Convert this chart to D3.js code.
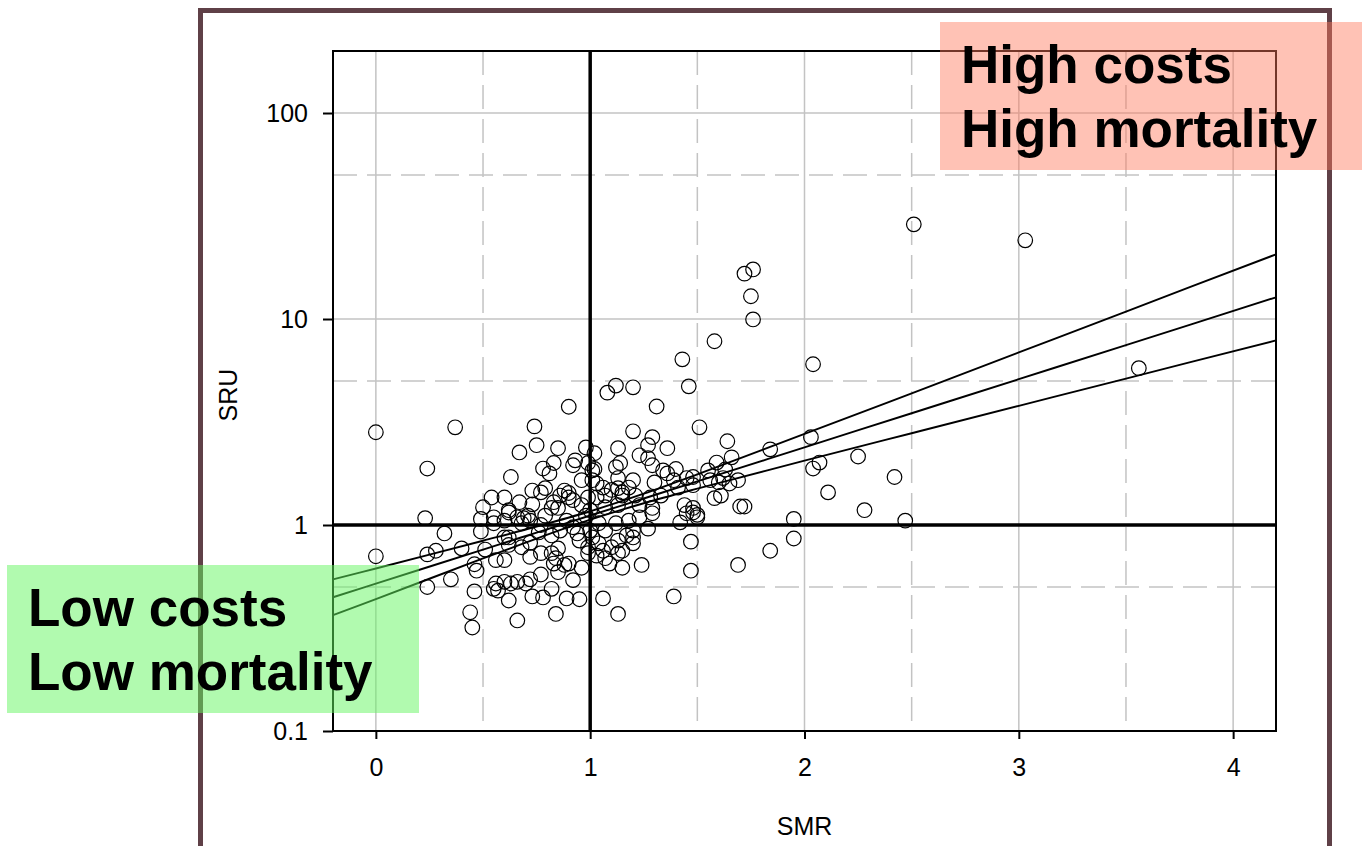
<!DOCTYPE html>
<html>
<head>
<meta charset="utf-8">
<script src="https://cdn.jsdelivr.net/npm/d3@7"></script>
<style>
  body { margin: 0; background: #fff; }
  svg { display: block; font-family: "Liberation Sans", Arial, sans-serif; }
</style>
</head>
<body>
<svg id="chart" width="1362" height="846"></svg>
<script>
// SMR (x) and SRU (y) for each unit
const smr = [
  2.51, 3.03, 3.56, 1.76, 1.72, 1.75, 1.76, 1.58, 1.43, 2.04,
  1.46, 1.12, 1.20, 1.08, 0.90, 1.31, 1.51, 0.74, 2.03, 1.64,
  1.84, 2.25, 2.07, 2.04, 2.42, 2.11, 1.70, 1.72, 2.28, 1.95,
  2.47, 1.95, 1.84, 1.69, 1.47, 1.47, 1.39, 1.13, 1.06, 1.24,
  1.48, 1.50,
  0.00, 0.00, 0.37, 0.24, 0.23, 0.32, 0.24, 0.28, 0.40, 0.24,
  0.35, 0.46, 0.47, 0.46, 0.44, 0.45, 0.66, 0.50, 0.49, 0.49,
  0.51, 0.54, 0.60, 0.63, 0.67, 0.75, 0.85, 0.67, 0.73, 0.55,
  0.60, 0.62, 0.66, 0.62, 0.56, 0.60,
  0.98, 1.02, 0.93, 0.92, 0.83, 0.78, 0.81, 1.01, 0.96, 0.79,
  0.73, 0.77, 0.88, 0.90, 0.90, 0.86, 0.83, 0.92, 0.62, 0.82,
  0.85, 0.99, 1.00, 0.55, 0.71,
  0.60, 0.62, 0.68, 0.72, 0.76, 0.77, 0.82, 0.85, 0.82, 0.77,
  0.72, 0.84, 0.83, 0.88, 0.85, 0.77, 0.72, 0.92, 0.90, 0.96,
  0.95, 0.94, 0.99, 0.56, 0.57, 0.60, 0.63, 0.66, 0.70, 0.55,
  0.62, 0.73, 0.78, 0.82, 0.89, 0.95, 0.84, 0.68, 0.69, 0.72,
  1.20, 1.29, 1.27, 1.36, 1.13, 1.23, 1.27, 1.66, 1.59, 1.12,
  1.14, 1.34, 1.36, 1.40, 1.02, 1.01, 1.13, 1.20, 1.30, 1.39,
  1.45, 1.48, 1.56, 1.62, 1.65, 1.69, 1.06, 1.13, 1.18, 1.41,
  1.48, 1.60, 1.03, 1.07, 1.15, 1.21, 1.28, 1.33, 1.58, 1.61,
  1.23, 1.13, 1.07, 1.29, 1.44, 1.48, 1.50,
  1.15, 1.27, 1.29, 1.42, 1.45, 1.20, 1.13, 1.07, 1.04, 1.06,
  1.07, 1.09, 1.13, 1.15, 1.20, 1.17, 1.03, 0.99, 1.01, 1.12,
  1.18, 1.23, 1.04, 1.00, 1.20, 1.10,
  1.55, 1.29, 1.15, 1.10, 1.03, 0.99, 1.63,
  0.89, 0.92, 0.98, 0.96, 0.86, 0.79
];
const sru = [
  28.8, 24.1, 5.77, 17.4, 16.6, 12.9, 9.95, 7.8, 6.37, 6.03,
  4.71, 4.75, 4.66, 4.39, 3.75, 3.76, 2.98, 3.01, 2.67, 2.55,
  2.33, 2.15, 2.01, 1.88, 1.71, 1.44, 1.23, 1.23, 1.18, 1.07,
  1.05, 0.86, 0.75, 0.64, 0.60, 0.83, 0.45, 0.37, 0.44, 0.64,
  1.15, 1.12,
  2.82, 0.705, 2.98, 1.88, 1.08, 0.91, 0.72, 0.75, 0.77, 0.50,
  0.545, 0.645, 0.60, 0.476, 0.377, 0.318, 0.344, 1.22, 1.07, 0.93,
  0.76, 1.36, 1.36, 1.71, 2.25, 2.44, 2.36, 1.29, 1.26, 1.02,
  1.05, 1.18, 1.09, 0.87, 0.675, 0.675,
  2.38, 2.23, 2.06, 1.95, 2.00, 1.88, 1.78, 1.84, 1.65, 1.51,
  1.47, 1.44, 1.47, 1.43, 1.36, 1.39, 1.29, 1.32, 1.15, 1.21,
  1.21, 1.36, 1.18, 1.09, 1.11,
  0.87, 0.80, 0.78, 0.82, 0.92, 1.00, 0.89, 0.77, 0.73, 0.73,
  0.70, 0.69, 0.65, 0.64, 0.59, 0.575, 0.545, 0.54, 0.65, 0.62,
  0.84, 0.91, 0.78, 0.52, 0.48, 0.53, 0.52, 0.53, 0.52, 0.49,
  0.43, 0.45, 0.445, 0.49, 0.44, 0.436, 0.37, 1.02, 1.08, 1.05,
  2.85, 2.67, 2.44, 2.36, 2.36, 2.18, 2.11, 2.13, 2.01, 1.91,
  2.00, 1.84, 1.78, 1.87, 1.87, 1.65, 1.69, 1.65, 1.61, 1.65,
  1.69, 1.71, 1.65, 1.69, 1.59, 1.65, 1.52, 1.51, 1.52, 1.52,
  1.56, 1.61, 1.36, 1.39, 1.39, 1.39, 1.36, 1.39, 1.35, 1.39,
  1.25, 1.25, 1.22, 1.21, 1.25, 1.21, 1.09,
  0.62, 0.96, 1.14, 1.03, 1.14, 0.87, 0.84, 0.94, 0.815, 0.75,
  0.69, 0.65, 0.73, 0.75, 0.815, 0.89, 0.71, 0.73, 0.87, 1.02,
  1.05, 1.09, 1.02, 0.94, 0.94, 0.78,
  1.84, 1.95, 1.44, 1.48, 1.59, 2.00, 1.86,
  1.05, 0.975, 1.11, 1.25, 0.94, 1.11
];

// regression line and its confidence band, read at these SMR values
const bandX = [-0.2, 0, 0.5, 0.75, 1, 1.25, 1.5, 2, 2.5, 3, 3.5, 4.2];
const fitMid = [0.446, 0.519, 0.760, 0.919, 1.112, 1.345, 1.627, 2.382, 3.487, 5.105, 7.47, 12.74];
const fitUpper = [0.545, 0.615, 0.839, 0.983, 1.166, 1.419, 1.763, 2.766, 4.36, 6.88, 10.87, 20.6];
const fitLower = [0.365, 0.437, 0.688, 0.859, 1.061, 1.275, 1.502, 2.052, 2.79, 3.79, 5.14, 7.87];

const xTicks = [0, 1, 2, 3, 4];
const xHalf = [0.5, 1.5, 2.5, 3.5];
const yTicks = [0.1, 1, 10, 100];
const yHalf = [0.5, 5, 50];

const svg = d3.select("#chart");
const plotL = 333, plotR = 1276, plotT = 51, plotB = 731;

const x = d3.scaleLinear().domain([-0.2, 4.2]).range([plotL, plotR]);
const y = d3.scaleLog().domain([0.1, 200]).range([plotB, plotT]);

// outer brown frame (open at the bottom)
svg.append("path")
  .attr("d", "M200.5,850 V10.5 H1329.5 V850")
  .attr("fill", "none")
  .attr("stroke", "#5f4047")
  .attr("stroke-width", 5);

const grid = svg.append("g").attr("stroke", "#c3c3c3").attr("stroke-width", 1.5);

grid.selectAll(".vx").data(xTicks).join("line")
  .attr("x1", d => x(d)).attr("x2", d => x(d))
  .attr("y1", plotT).attr("y2", plotB);
grid.selectAll(".vh").data(xHalf).join("line")
  .attr("x1", d => x(d)).attr("x2", d => x(d))
  .attr("y1", plotT).attr("y2", plotB)
  .attr("stroke-dasharray", "24,10");
grid.selectAll(".hy").data(yTicks.filter(d => d > 0.1)).join("line")
  .attr("x1", plotL).attr("x2", plotR)
  .attr("y1", d => y(d)).attr("y2", d => y(d));
grid.selectAll(".hh").data(yHalf).join("line")
  .attr("x1", plotL).attr("x2", plotR)
  .attr("y1", d => y(d)).attr("y2", d => y(d))
  .attr("stroke-dasharray", "24,10");

// axes
const xAxis = svg.append("g")
  .attr("transform", `translate(0,${plotB})`)
  .call(d3.axisBottom(x).tickValues(xTicks).tickSize(8).tickPadding(19).tickFormat(d3.format("d")));
const yAxis = svg.append("g")
  .attr("transform", `translate(${plotL},0)`)
  .call(d3.axisLeft(y).tickValues(yTicks).tickSize(10).tickPadding(15).tickFormat(d => String(d)));

[xAxis, yAxis].forEach(a => {
  a.select(".domain").remove();
  a.selectAll(".tick line").attr("stroke", "#000").attr("stroke-width", 2);
  a.selectAll(".tick text")
    .attr("fill", "#000")
    .style("font-size", "25px")
    .style("font-family", "'Liberation Sans', Arial, sans-serif");
});

// plot box
svg.append("rect")
  .attr("x", plotL).attr("y", plotT)
  .attr("width", plotR - plotL).attr("height", plotB - plotT)
  .attr("fill", "none").attr("stroke", "#000").attr("stroke-width", 2);

// points
svg.append("g")
  .selectAll("circle")
  .data(smr.map((d, i) => [d, sru[i]]))
  .join("circle")
  .attr("cx", d => x(d[0]))
  .attr("cy", d => y(d[1]))
  .attr("r", 7.3)
  .attr("fill", "none")
  .attr("stroke", "#000")
  .attr("stroke-width", 1.2);

// reference lines at SMR = 1 and SRU = 1
svg.append("line")
  .attr("x1", x(1)).attr("x2", x(1)).attr("y1", plotT).attr("y2", plotB)
  .attr("stroke", "#000").attr("stroke-width", 3.5);
svg.append("line")
  .attr("x1", plotL).attr("x2", plotR).attr("y1", y(1)).attr("y2", y(1))
  .attr("stroke", "#000").attr("stroke-width", 3.5);

// fit + band
const line = d3.line().curve(d3.curveCatmullRom)
  .x((d, i) => x(bandX[i]))
  .y(d => y(d));
[fitUpper, fitMid, fitLower].forEach(s => {
  svg.append("path")
    .attr("d", line(s))
    .attr("fill", "none")
    .attr("stroke", "#000")
    .attr("stroke-width", 1.9);
});

// axis titles
svg.append("text")
  .attr("x", (plotL + plotR) / 2).attr("y", 835)
  .attr("text-anchor", "middle")
  .style("font-size", "25px")
  .text("SMR");
svg.append("text")
  .attr("transform", "translate(237,395) rotate(-90)")
  .attr("text-anchor", "middle")
  .style("font-size", "25px")
  .text("SRU");

// quadrant labels
svg.append("rect")
  .attr("x", 940).attr("y", 22).attr("width", 430).attr("height", 148)
  .attr("fill", "rgb(255,120,90)").attr("fill-opacity", 0.45);
svg.append("rect")
  .attr("x", 7).attr("y", 565).attr("width", 412).attr("height", 148)
  .attr("fill", "rgb(100,245,95)").attr("fill-opacity", 0.5);

const labels = [
  { text: "High costs", x: 961, y: 83 },
  { text: "High mortality", x: 961, y: 147 },
  { text: "Low costs", x: 28, y: 626 },
  { text: "Low mortality", x: 28, y: 690 }
];
svg.selectAll(".quad")
  .data(labels)
  .join("text")
  .attr("x", d => d.x).attr("y", d => d.y)
  .style("font-size", "53px")
  .style("font-weight", "bold")
  .text(d => d.text);
</script>
</body>
</html>
